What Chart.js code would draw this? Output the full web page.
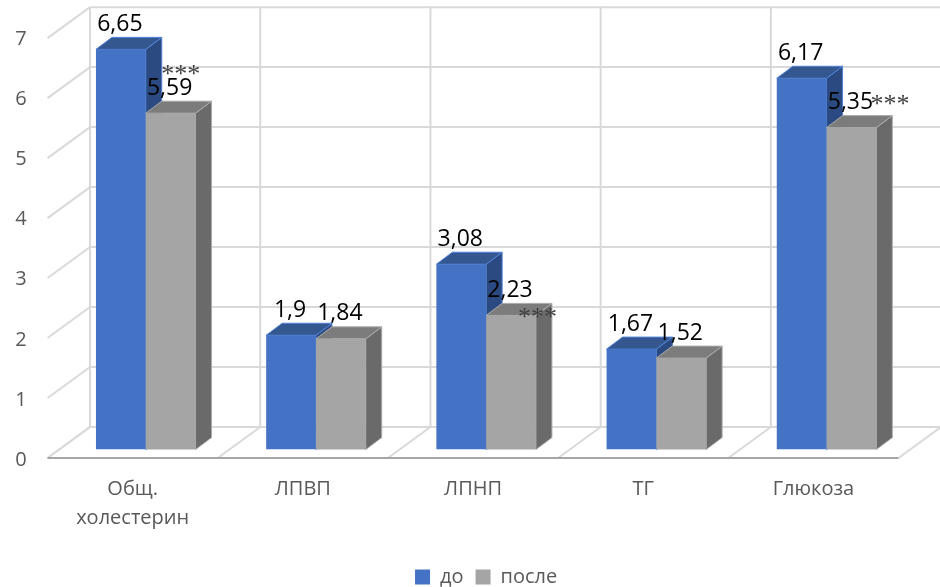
<!DOCTYPE html>
<html>
<head>
<meta charset="utf-8">
<style>
  html, body { margin: 0; padding: 0; background: #fff; overflow: hidden; }
  #wrap { width: 940px; height: 587px; position: relative; }
</style>
<script src="https://cdn.jsdelivr.net/npm/chart.js@4"></script>
</head>
<body>
<div id="wrap"><canvas id="chart"></canvas></div>
<script>
const categories = [["Общ.", "холестерин"], "ЛПВП", "ЛПНП", "ТГ", "Глюкоза"];
const before = [6.65, 1.9, 3.08, 1.67, 6.17];
const after = [5.59, 1.84, 2.23, 1.52, 5.35];
const afterStars = ["***", "", "***", "", "***"];
const yTicks = [0, 1, 2, 3, 4, 5, 6, 7];

const FONT = '"Open Sans", sans-serif';
const GRID = "#d9d9d9";
const BAR_DEPTH = { dx: 16, dy: -12 };
const BACK = { dx: 29.4, dy: -22.6 };   // bar plane -> back wall
const FRONT = { dx: -13.1, dy: 8.4 };   // bar plane -> front floor edge
const WALL_SCALE = 0.9966;
const STAR_SHIFT = [{ x: 10, y: -38 }, null, { x: 26.5, y: 2.4 }, null, { x: 38.5, y: -22.7 }];

const FACES = [
  { top: "#34578f", side: "#2b4a82", edge: "#4f82d8" },
  { top: "#7c7c7c", side: "#6a6a6a", edge: "#ababab" },
];

function poly(ctx, pts, fill, stroke) {
  ctx.beginPath();
  pts.forEach((p, i) => (i ? ctx.lineTo(p[0], p[1]) : ctx.moveTo(p[0], p[1])));
  ctx.closePath();
  ctx.fillStyle = fill;
  ctx.fill();
  ctx.strokeStyle = stroke;
  ctx.lineWidth = 1;
  ctx.stroke();
}

function line(ctx, x1, y1, x2, y2) {
  ctx.beginPath();
  ctx.moveTo(x1, y1);
  ctx.lineTo(x2, y2);
  ctx.stroke();
}

// Back wall, side wall and floor of the fake 3D box, hung off the chart's own scales.
const wallsPlugin = {
  id: "walls",
  beforeDatasetsDraw(chart) {
    const { ctx, chartArea, scales } = chart;
    const zero = scales.y.getPixelForValue(0);
    const wallY = (v, off) => zero + (scales.y.getPixelForValue(v) - zero) * WALL_SCALE + off;
    const step = (chartArea.right - chartArea.left) / categories.length;
    const frontL = chartArea.left + FRONT.dx;
    const backL = chartArea.left + BACK.dx;
    const backR = backL + step * categories.length;
    ctx.save();
    ctx.strokeStyle = GRID;
    ctx.lineWidth = 2;
    yTicks.forEach((v) => {
      line(ctx, backL, wallY(v, BACK.dy), backR, wallY(v, BACK.dy));
      line(ctx, frontL, wallY(v, FRONT.dy), backL, wallY(v, BACK.dy));
    });
    for (let i = 0; i <= categories.length; i++) {
      const xb = backL + step * i;
      line(ctx, xb, wallY(7, BACK.dy), xb, wallY(0, BACK.dy));
      line(ctx, frontL + step * i, wallY(0, FRONT.dy), xb, wallY(0, BACK.dy));
    }
    ctx.strokeStyle = "#a6a6a6";
    ctx.lineWidth = 2;
    line(ctx, frontL, wallY(0, FRONT.dy), frontL + step * categories.length, wallY(0, FRONT.dy));
    ctx.restore();
  },
};

function drawFaces(ctx, meta, face) {
  meta.data.forEach((bar) => {
    const l = bar.x - bar.width / 2;
    const r = bar.x + bar.width / 2;
    const { dx, dy } = BAR_DEPTH;
    poly(ctx, [[r, bar.y], [r + dx, bar.y + dy], [r + dx, bar.base + dy], [r, bar.base]], face.side, face.edge);
    poly(ctx, [[l, bar.y], [r, bar.y], [r + dx, bar.y + dy], [l + dx, bar.y + dy]], face.top, face.edge);
  });
}

// Chart.js paints the left bar last, but here the right bar has to cover the
// left bar's side face, so the grey dataset is held back and painted after the blue.
const facesPlugin = {
  id: "faces",
  beforeDatasetDraw(chart, args) {
    if (args.index === 1) return false;
    drawFaces(chart.ctx, args.meta, FACES[0]);
  },
  afterDatasetDraw(chart, args) {
    if (args.index !== 0) return;
    const { ctx } = chart;
    const grey = chart.getDatasetMeta(1);
    ctx.save();
    drawFaces(ctx, grey, FACES[1]);
    grey.data.forEach((bar) => bar.draw(ctx));
    ctx.restore();
  },
};

const labelsPlugin = {
  id: "valueLabels",
  afterDatasetsDraw(chart) {
    const { ctx } = chart;
    ctx.save();
    ctx.textAlign = "center";
    ctx.textBaseline = "middle";
    chart.data.datasets.forEach((ds, d) => {
      chart.getDatasetMeta(d).data.forEach((bar, i) => {
        ctx.font = `23px ${FONT}`;
        ctx.fillStyle = "#000";
        ctx.fillText(String(ds.data[i]).replace(".", ","), bar.x - 1, bar.y - 25);
        if (d === 1 && afterStars[i]) {
          ctx.font = '26px "Liberation Serif", serif';
          ctx.fillStyle = "#404040";
          ctx.fillText(afterStars[i], bar.x + STAR_SHIFT[i].x, bar.y + STAR_SHIFT[i].y);
        }
      });
    });
    ctx.restore();
  },
};

new Chart(document.getElementById("chart"), {
  type: "bar",
  data: {
    labels: categories,
    datasets: [
      { label: "до", data: before, backgroundColor: "#4472c4", borderWidth: 0 },
      { label: "после", data: after, backgroundColor: "#a5a5a5", borderWidth: 0 },
    ],
  },
  options: {
    responsive: true,
    maintainAspectRatio: false,
    animation: false,
    devicePixelRatio: 1,
    datasets: { bar: { categoryPercentage: 0.585, barPercentage: 1 } },
    layout: { autoPadding: false, padding: { left: 0, right: 28.35, top: 28.3, bottom: -10 } },
    plugins: {
      tooltip: { enabled: false },
      legend: {
        position: "bottom",
        fullSize: false,
        labels: {
          boxWidth: 15,
          boxHeight: 15,
          padding: 12,
          color: "#595959",
          font: { family: FONT, size: 20 },
        },
      },
    },
    scales: {
      x: {
        grid: { display: false },
        border: { display: false },
        ticks: {
          color: "#595959",
          font: { family: FONT, size: 20, lineHeight: 1.45 },
          padding: 17.4,
          labelOffset: -13.1,
          maxRotation: 0,
          autoSkip: false,
        },
        afterFit(scale) {
          scale.height = 105.4;
          scale.paddingLeft = 0;
          scale.paddingRight = 0;
        },
      },
      y: {
        min: 0,
        max: 7,
        grid: { display: false },
        border: { display: false },
        ticks: {
          stepSize: 1,
          color: "#595959",
          font: { family: FONT, size: 20 },
          padding: 26,
          labelOffset: 10.7,
        },
        afterFit(scale) {
          scale.width = 60.65;
          scale.paddingTop = 0;
          scale.paddingBottom = 0;
        },
      },
    },
  },
  plugins: [wallsPlugin, facesPlugin, labelsPlugin],
});
</script>
</body>
</html>
